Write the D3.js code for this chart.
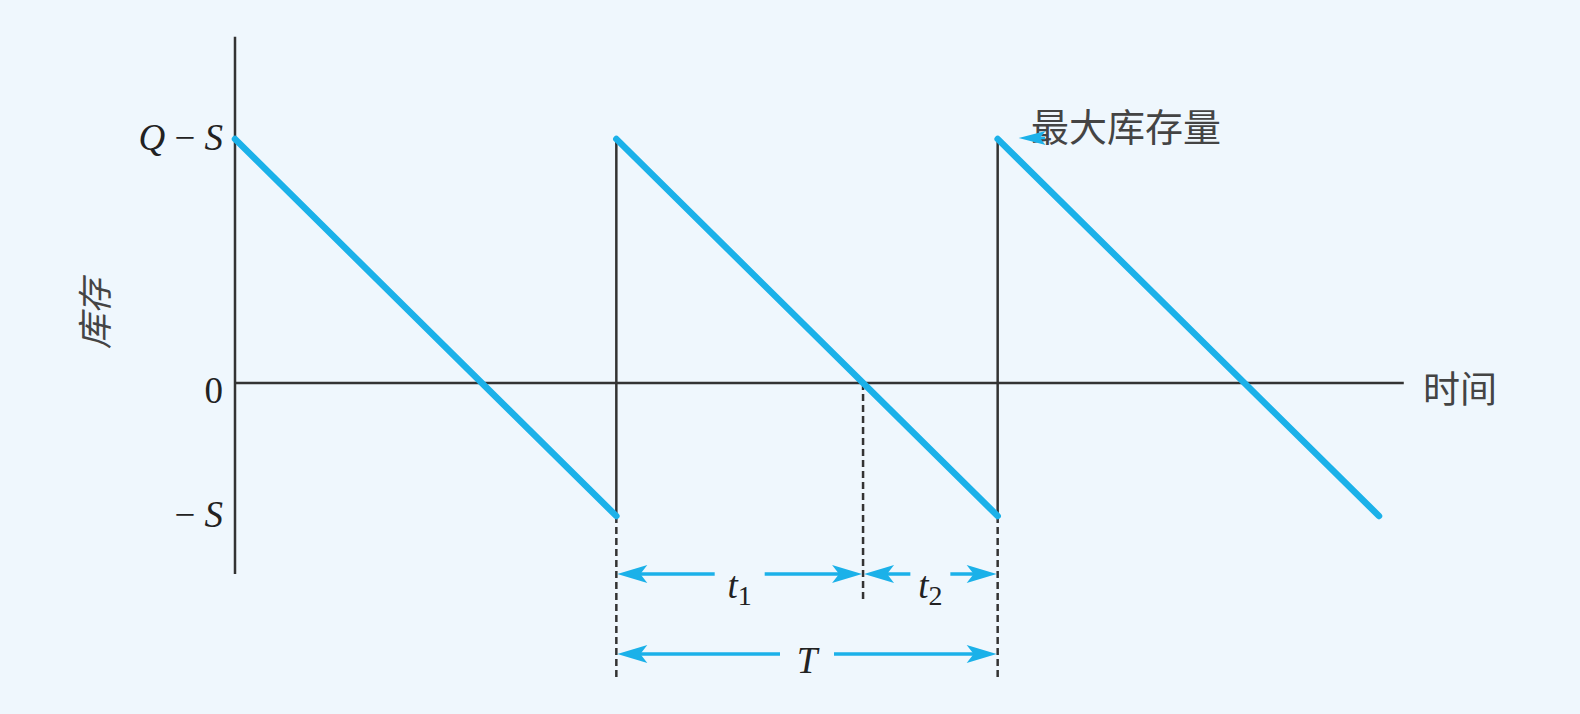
<!DOCTYPE html>
<html>
<head>
<meta charset="utf-8">
<script src="https://cdn.jsdelivr.net/npm/d3@7"></script>
<style>
  html, body { margin: 0; padding: 0; background: #eff7fd; }
  svg { display: block; }
</style>
</head>
<body>
<svg id="chart" width="1580" height="714"></svg>
<script>
// ---- data ----
const Q = 1.0;                 // order quantity
const S = 0.353;               // max shortage
const T = 1;                   // cycle length
const cycleStarts = [0, 1, 2]; // start times of each cycle (units of T)
const jumpTimes = [1, 2];      // replenishment instants
const yTickValues = [Q - S, 0, -S];
const yTickLabels = [["Q", " − ", "S"], ["0"], ["− ", "S"]];
const xAxisLabel = "时间";
const yAxisLabel = "库存";
const annotationText = "最大库存量";
const t1 = (Q - S) / Q * T;
const t2 = T - t1;

// ---- layout ----
const W = 1580, H = 714;
const blue = "#1bb1e9";
const ink = "#333333";
const svg = d3.select("#chart");
svg.append("rect").attr("width", W).attr("height", H).attr("fill", "#eff7fd");

const x = d3.scaleLinear().domain([0, 3]).range([235, 1379]);
const y = d3.scaleLinear().domain([-S, Q - S]).range([516, 139]);
const xMax = 3.065;
const yTop = 0.918, yBottom = -0.507;

// axes
svg.append("line").attr("x1", x(0)).attr("x2", x(0)).attr("y1", y(yTop)).attr("y2", y(yBottom))
  .attr("stroke", ink).attr("stroke-width", 2.5);
svg.append("line").attr("x1", x(0)).attr("x2", x(xMax)).attr("y1", y(0)).attr("y2", y(0))
  .attr("stroke", ink).attr("stroke-width", 2.5);

// vertical replenishment lines
jumpTimes.forEach(t => {
  svg.append("line").attr("x1", x(t)).attr("x2", x(t)).attr("y1", y(Q - S)).attr("y2", y(-S))
    .attr("stroke", ink).attr("stroke-width", 2.5);
  svg.append("line").attr("x1", x(t)).attr("x2", x(t)).attr("y1", y(-S)).attr("y2", y(-S) + 165)
    .attr("stroke", ink).attr("stroke-width", 2.5).attr("stroke-dasharray", "7,4");
});
// dashed line at zero crossing of the second cycle
svg.append("line").attr("x1", x(1 + t1)).attr("x2", x(1 + t1)).attr("y1", y(0)).attr("y2", y(-S) + 84)
  .attr("stroke", ink).attr("stroke-width", 2.5).attr("stroke-dasharray", "7,4");

// sawtooth
const line = d3.line().x(d => x(d[0])).y(d => y(d[1]));
cycleStarts.forEach(t0 => {
  svg.append("path").attr("d", line([[t0, Q - S], [t0 + T, -S]]))
    .attr("fill", "none").attr("stroke", blue).attr("stroke-width", 6.5).attr("stroke-linecap", "round");
});

// y tick labels
const mathFont = "'Liberation Serif', 'DejaVu Serif', serif";
const yLabelOffsets = [11, 20, 11];
yTickValues.forEach((v, i) => {
  const txt = svg.append("text")
    .attr("x", 223).attr("y", y(v) + yLabelOffsets[i])
    .attr("text-anchor", "end")
    .attr("font-family", mathFont).attr("font-size", 37).attr("fill", "#222");
  yTickLabels[i].forEach(part => {
    txt.append("tspan").text(part)
      .attr("font-style", /[A-Za-z]/.test(part) ? "italic" : "normal");
  });
});

// axis titles
const cjk = "'Noto Sans CJK SC', sans-serif";
svg.append("text").attr("x", 1423).attr("y", y(0) + 4)
  .attr("dominant-baseline", "central").attr("font-family", cjk).attr("font-size", 37)
  .attr("fill", "#444").text(xAxisLabel);
svg.append("text").attr("transform", `translate(92,314) rotate(-90)`)
  .attr("text-anchor", "middle").attr("dominant-baseline", "central")
  .attr("font-family", cjk).attr("font-size", 35).attr("font-style", "italic")
  .attr("fill", "#444").text(yAxisLabel);

// arrowhead helper (stealth shape), dir = -1 points left, +1 points right
function arrowHead(tipX, tipY, dir, L = 30, w = 9, notch = 7) {
  const p = [
    [tipX, tipY],
    [tipX - dir * L, tipY - w],
    [tipX - dir * (L - notch), tipY],
    [tipX - dir * L, tipY + w]
  ];
  svg.append("path").attr("d", "M" + p.map(q => q.join(",")).join("L") + "Z").attr("fill", blue);
}

// annotation
svg.append("text").attr("x", 1031).attr("y", 124)
  .attr("dominant-baseline", "central").attr("font-family", cjk).attr("font-size", 38)
  .attr("fill", "#444").text(annotationText);
svg.append("line").attr("x1", 1030).attr("x2", 1045).attr("y1", y(Q - S) - 1).attr("y2", y(Q - S) - 1)
  .attr("stroke", blue).attr("stroke-width", 2.5);
arrowHead(x(2) + 21, y(Q - S) - 1, -1, 27, 7, 6);

// dimension arrows
const dims = [
  { from: 1, to: 1 + t1, dy: 58, label: "t", sub: "1", gap: 25 },
  { from: 1 + t1, to: 2, dy: 58, label: "t", sub: "2", gap: 20 },
  { from: 1, to: 2, dy: 138, label: "T", sub: "", gap: 27 }
];
dims.forEach(d => {
  const x1 = x(d.from), x2 = x(d.to), yy = y(-S) + d.dy, mid = (x1 + x2) / 2;
  svg.append("line").attr("x1", x1 + 10).attr("x2", mid - d.gap).attr("y1", yy).attr("y2", yy)
    .attr("stroke", blue).attr("stroke-width", 3.5);
  svg.append("line").attr("x1", mid + d.gap).attr("x2", x2 - 10).attr("y1", yy).attr("y2", yy)
    .attr("stroke", blue).attr("stroke-width", 3.5);
  arrowHead(x1 + 1, yy, -1);
  arrowHead(x2 - 1, yy, 1);
  const t = svg.append("text").attr("x", mid).attr("y", yy + (d.sub ? 24 : 19))
    .attr("text-anchor", "middle").attr("font-family", mathFont).attr("font-size", 37)
    .attr("fill", "#222");
  t.append("tspan").text(d.label).attr("font-style", "italic");
  if (d.sub) t.append("tspan").text(d.sub).attr("font-size", 28).attr("dy", 7);
});
</script>
</body>
</html>
